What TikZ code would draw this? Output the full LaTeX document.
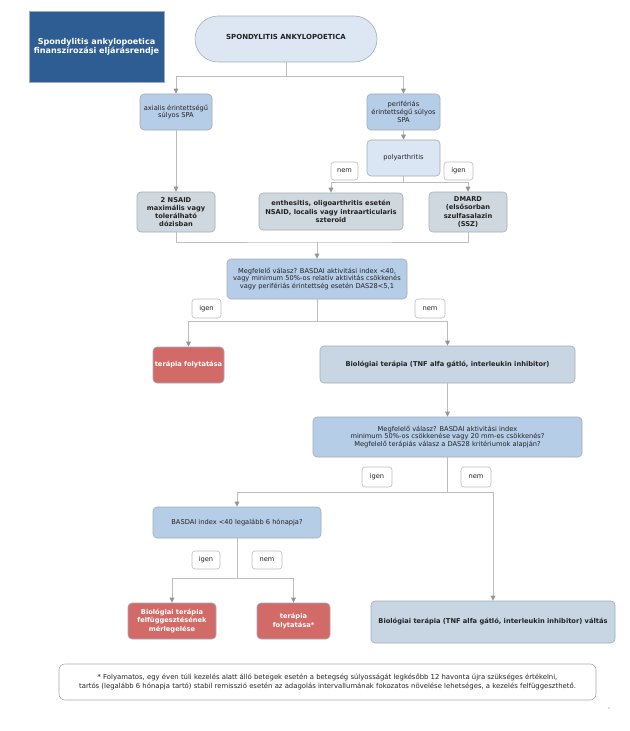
\documentclass[tikz,border=0pt]{standalone}
\usepackage{fontspec}
\setmainfont{DejaVu Sans}
\usetikzlibrary{arrows.meta}
\definecolor{titleblue}{HTML}{2D5D92}
\definecolor{pillfill}{HTML}{DCE7F3}
\definecolor{midblue}{HTML}{B6CDE8}
\definecolor{lightbl}{HTML}{DAE6F3}
\definecolor{greybox}{HTML}{D0D8DF}
\definecolor{bioblue}{HTML}{C8D6E4}
\definecolor{redbox}{HTML}{D26B67}
\definecolor{bordgrey}{HTML}{A3ACB5}
\definecolor{linegrey}{HTML}{BDBDBD}
\definecolor{arrgrey}{HTML}{959595}
\definecolor{txt}{HTML}{222222}
\tikzset{
  box/.style={draw=bordgrey, line width=0.6bp, rounded corners=4bp, align=center, inner sep=1bp, text=txt,
    font=\fontsize{6.7}{7.8}\selectfont},
  boldbox/.style={box, font=\fontsize{6.7}{8.3}\selectfont\bfseries},
  lbl/.style={draw=linegrey, line width=0.6bp, fill=white, rounded corners=3bp, inner sep=0pt, text=txt,
    font=\fontsize{6.7}{7.5}\selectfont},
  conn/.style={draw=linegrey, line width=0.9bp},
  arr/.style={conn, -{Triangle[length=5bp,width=4.6bp,color=arrgrey]}},
}
\begin{document}
\begin{tikzpicture}[x=1bp,y=-1bp]
\useasboundingbox (0,0) rectangle (630,731);
% title
\node[draw=bordgrey, line width=0.6bp, fill=titleblue, text=white, align=center,
  font=\fontsize{8.1}{9.3}\selectfont\bfseries, minimum width=135bp, minimum height=71bp, inner sep=0pt]
  (title) at (96.5,46.5) {Spondylitis ankylopoetica\\finanszírozási eljárásrendje};
% top
\node[boldbox, fill=pillfill, rounded corners=23bp, minimum width=182bp, minimum height=46bp,
  font=\fontsize{7}{8.3}\selectfont\bfseries]
  (pill) at (286,39) {\raisebox{4bp}{SPONDYLITIS ANKYLOPOETICA}};
\node[box, fill=midblue, minimum width=72bp, minimum height=36bp] (axial) at (176,112)
  {axialis érintettségű\\súlyos SPA};
\node[box, fill=midblue, minimum width=73bp, minimum height=36bp] (perif) at (403.5,112)
  {perifériás\\érintettségű súlyos\\SPA};
\node[box, fill=lightbl, minimum width=73bp, minimum height=36bp] (poly) at (403.5,158)
  {polyarthritis};
\node[lbl, minimum width=27bp, minimum height=18bp] (nemA) at (344.5,171) {nem};
\node[lbl, minimum width=29bp, minimum height=18bp] (igenA) at (458.5,171) {igen};
\node[boldbox, fill=greybox, minimum width=78bp, minimum height=40bp] (nsaid) at (176,212)
  {2 NSAID\\maximális vagy\\tolerálható\\dózisban};
\node[boldbox, fill=greybox, minimum width=144bp, minimum height=37bp] (enth) at (331,211.5)
  {enthesitis, oligoarthritis esetén\\NSAID, localis vagy intraarticularis\\szteroid};
\node[boldbox, fill=greybox, minimum width=78bp, minimum height=40bp] (dmard) at (468,212)
  {DMARD\\(elsősorban\\szulfasalazin\\(SSZ)};
% first decision
\node[box, fill=midblue, minimum width=180bp, minimum height=40bp] (meg1) at (317,279)
  {Megfelelő válasz? BASDAI aktivitási index <40,\\vagy minimum 50\%-os relatív aktivitás csökkenés\\vagy perifériás érintettség esetén DAS28<5,1};
\node[lbl, minimum width=29bp, minimum height=19bp] (igenB) at (206.5,308.5) {igen};
\node[lbl, minimum width=30bp, minimum height=19bp] (nemB) at (430,308.5) {nem};
\node[boldbox, fill=redbox, text=white, minimum width=71bp, minimum height=36bp] (folyt1) at (188.5,365)
  {terápia folytatása};
\node[boldbox, fill=bioblue, minimum width=255bp, minimum height=37bp] (bio1) at (447.5,364.5)
  {Biológiai terápia (TNF alfa gátló, interleukin inhibitor)};
\node[box, fill=midblue, minimum width=269bp, minimum height=40bp] (meg2) at (447.5,437)
  {Megfelelő válasz? BASDAI aktivitási index\\minimum 50\%-os csökkenése vagy 20 mm-es csökkenés?\\Megfelelő terápiás válasz a DAS28 kritériumok alapján?};
\node[lbl, minimum width=30bp, minimum height=20bp] (igenC) at (377,477) {igen};
\node[lbl, minimum width=30bp, minimum height=20bp] (nemC) at (476,477) {nem};
\node[box, fill=midblue, minimum width=168bp, minimum height=31bp] (basdai) at (237,522.5)
  {BASDAI index <40 legalább 6 hónapja?};
\node[lbl, minimum width=28bp, minimum height=18bp] (igenD) at (206,560) {igen};
\node[lbl, minimum width=30bp, minimum height=18bp] (nemD) at (267,560) {nem};
\node[boldbox, fill=redbox, text=white, minimum width=88bp, minimum height=36bp] (felf) at (172,621)
  {Biológiai terápia\\felfüggesztésének\\mérlegelése};
\node[boldbox, fill=redbox, text=white, minimum width=73bp, minimum height=36bp] (folyt2) at (293.5,621)
  {terápia\\folytatása*};
\node[boldbox, fill=bioblue, minimum width=244bp, minimum height=42bp] (bio2) at (493,622)
  {Biológiai terápia (TNF alfa gátló, interleukin inhibitor) váltás};
% footnote
\node[draw=bordgrey, line width=0.6bp, fill=white, rounded corners=6bp, align=center, text=txt,
  font=\fontsize{6.9}{9}\selectfont, minimum width=537bp, minimum height=36bp, inner sep=0pt]
  (foot) at (327.5,682)
  {* Folyamatos, egy éven túli kezelés alatt álló betegek esetén a betegség súlyosságát legkésőbb 12 havonta újra szükséges értékelni,\\
   tartós (legalább 6 hónapja tartó) stabil remisszió esetén az adagolás intervallumának fokozatos növelése lehetséges, a kezelés felfüggeszthető.};
\node[font=\fontsize{2.5}{3}\selectfont, text=arrgrey, inner sep=0pt] (pgnum) at (609,709) {8};
% connectors
\coordinate (j1) at (286,76);
\draw[conn] (pill.south) -- (j1);
\draw[arr] (j1) -| (axial.north);
\draw[arr] (j1) -| (perif.north);
\draw[arr] (axial.south) -- (nsaid.north);
\draw[arr] (perif.south) -- (poly.north);
\coordinate (j2) at (403.5,182);
\draw[conn] (poly.south) -- (j2);
\draw[arr] (j2) -| (enth.north);
\draw[arr] (j2) -| (dmard.north);
\coordinate (j3) at (317,242);
\draw[conn] (nsaid.south) |- (j3) -| (dmard.south);
\draw[arr] (j3) -- (meg1.north);
\coordinate (j4) at (317,321);
\draw[conn] (meg1.south) -- (j4);
\draw[arr] (j4) -| (folyt1.north);
\draw[arr] (j4) -| (bio1.north);
\draw[arr] (bio1.south) -- (meg2.north);
\coordinate (j5) at (447.5,492);
\draw[conn] (meg2.south) -- (j5);
\draw[arr] (j5) -| (basdai.north);
\draw[arr] (j5) -| (bio2.north);
\coordinate (j6) at (237,578);
\draw[conn] (basdai.south) -- (j6);
\draw[arr] (j6) -| (felf.north);
\draw[arr] (j6) -| (folyt2.north);
\end{tikzpicture}
\end{document}
